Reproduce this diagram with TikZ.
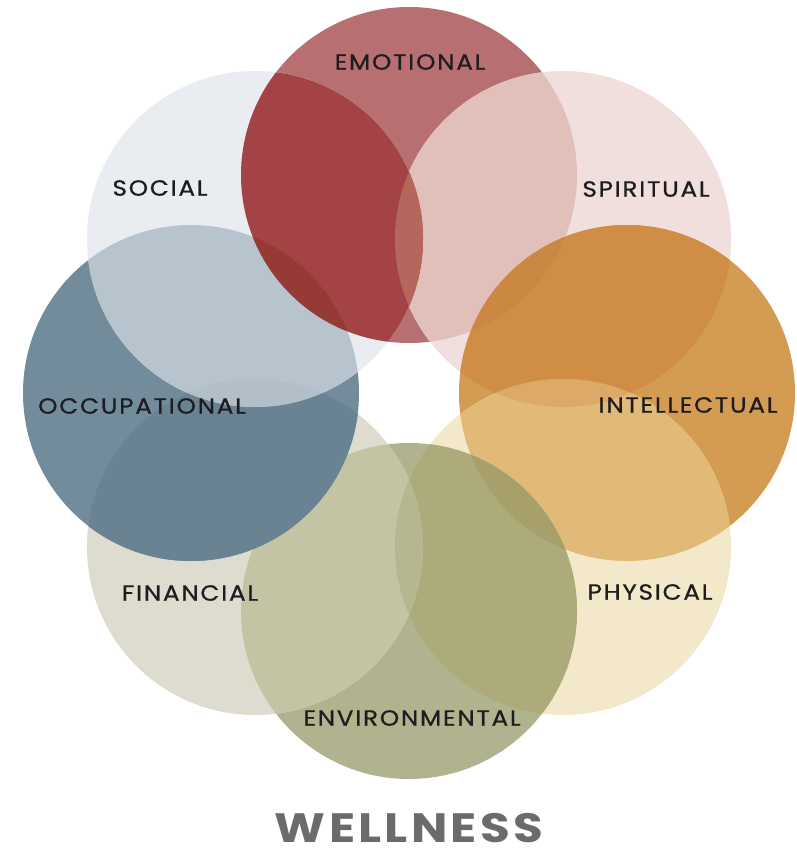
\documentclass[tikz,border=0pt]{standalone}
\usepackage{fontspec}
\newfontfamily\lblfont[LetterSpace=8,FakeStretch=1.12,FakeBold=0.7]{Poppins}
\newfontfamily\ttlfont[LetterSpace=8,FakeStretch=1.18]{Poppins}
\usetikzlibrary{positioning}

% plain circle colours
\definecolor{emoCol}{HTML}{B86F72}
\definecolor{spiCol}{HTML}{F0DFDD}
\definecolor{intCol}{HTML}{D49B52}
\definecolor{phyCol}{HTML}{F3E9CA}
\definecolor{envCol}{HTML}{B1B38E}
\definecolor{finCol}{HTML}{DDDCCF}
\definecolor{occCol}{HTML}{728C9C}
\definecolor{socCol}{HTML}{E9ECF1}
% two circles
\definecolor{emoSpiCol}{HTML}{E1C0BA}
\definecolor{spiIntCol}{HTML}{D08D46}
\definecolor{intPhyCol}{HTML}{E1BA78}
\definecolor{phyEnvCol}{HTML}{ADAB79}
\definecolor{envFinCol}{HTML}{C2C4A3}
\definecolor{finOccCol}{HTML}{6A8393}
\definecolor{occSocCol}{HTML}{B8C4CD}
\definecolor{socEmoCol}{HTML}{A34346}
% three circles
\definecolor{emoTriCol}{HTML}{B5675E}
\definecolor{spiTriCol}{HTML}{CB8843}
\definecolor{intTriCol}{HTML}{DCAA66}
\definecolor{phyTriCol}{HTML}{A8A06A}
\definecolor{envTriCol}{HTML}{B6B791}
\definecolor{finTriCol}{HTML}{6A8392}
\definecolor{occTriCol}{HTML}{B3BFC8}
\definecolor{socTriCol}{HTML}{963A36}
\definecolor{lblText}{HTML}{1E1C1E}
\definecolor{ttlText}{HTML}{6B6B6D}

\tikzset{
  lbl/.style={font=\lblfont\fontsize{22}{22}\selectfont,text=lblText,inner sep=0pt},
  ttl/.style={font=\ttlfont\bfseries\fontsize{41}{41}\selectfont,text=ttlText,inner sep=0pt}
}
\newcommand{\overlapfill}[3]{\begin{scope}\clip (#1) circle[radius=168];\fill[#3] (#2) circle[radius=168];\end{scope}}

\begin{document}
\begin{tikzpicture}[x=1pt,y=-1pt]
\useasboundingbox[fill=white] (0,0) rectangle (797,856);
% centres
\coordinate (emo) at (409,175);
\coordinate (spi) at (563,239);
\coordinate (int) at (627,393);
\coordinate (phy) at (563,547);
\coordinate (env) at (409,611);
\coordinate (fin) at (255,547);
\coordinate (occ) at (191,393);
\coordinate (soc) at (255,239);
\coordinate (envBot) at (409,779);

% circles
\fill[emoCol] (emo) circle[radius=168];
\fill[spiCol] (spi) circle[radius=168];
\fill[intCol] (int) circle[radius=168];
\fill[phyCol] (phy) circle[radius=168];
\fill[envCol] (env) circle[radius=168];
\fill[finCol] (fin) circle[radius=168];
\fill[occCol] (occ) circle[radius=168];
\fill[socCol] (soc) circle[radius=168];

% neighbours
\overlapfill{emo}{spi}{emoSpiCol}
\overlapfill{spi}{int}{spiIntCol}
\overlapfill{int}{phy}{intPhyCol}
\overlapfill{phy}{env}{phyEnvCol}
\overlapfill{env}{fin}{envFinCol}
\overlapfill{fin}{occ}{finOccCol}
\overlapfill{occ}{soc}{occSocCol}
\overlapfill{soc}{emo}{socEmoCol}

% thin lenses, inside the middle circle
\overlapfill{soc}{spi}{emoTriCol}
\overlapfill{emo}{int}{spiTriCol}
\overlapfill{spi}{phy}{intTriCol}
\overlapfill{int}{env}{phyTriCol}
\overlapfill{phy}{fin}{envTriCol}
\overlapfill{env}{occ}{finTriCol}
\overlapfill{fin}{soc}{occTriCol}
\overlapfill{occ}{emo}{socTriCol}

% labels
\node[lbl] (emoLbl) at (410,62) {EMOTIONAL};
\node[lbl] (spiLbl) at (646,189) {SPIRITUAL};
\node[lbl] (intLbl) at (688,405) {INTELLECTUAL};
\node[lbl] (phyLbl) at (650,592) {PHYSICAL};
\node[lbl] (envLbl) at (412,718) {ENVIRONMENTAL};
\node[lbl] (finLbl) at (190,593) {FINANCIAL};
\node[lbl] (occLbl) at (142,406) {OCCUPATIONAL};
\node[lbl] (socLbl) at (160,188) {SOCIAL};
\node[ttl,below=34pt of envBot] (title) {WELLNESS};
\end{tikzpicture}
\end{document}
